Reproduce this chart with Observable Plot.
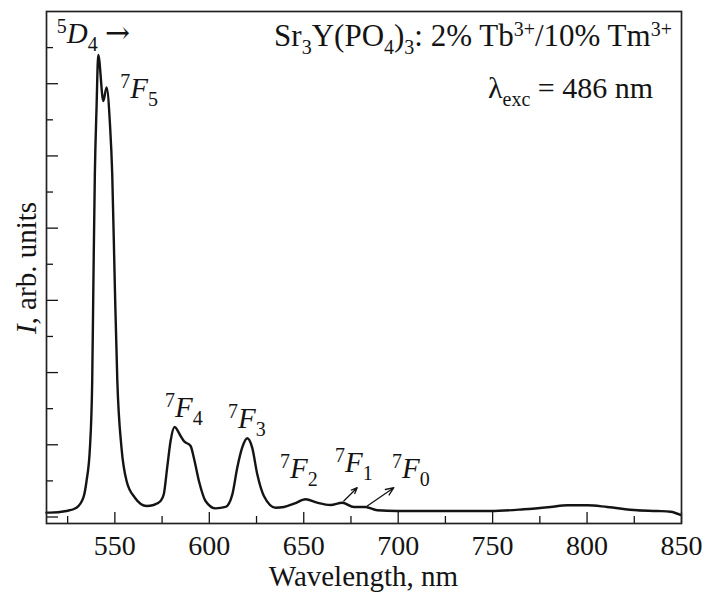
<!DOCTYPE html>
<html><head><meta charset="utf-8">
<script src="https://cdn.jsdelivr.net/npm/d3@7"></script>
<script src="https://cdn.jsdelivr.net/npm/@observablehq/plot@0.6"></script>
<style>body{margin:0;background:#fff} svg{display:block} text{white-space:pre}</style>
</head><body><div id="chart"></div>
<script>
// Emission spectrum (nm, arb. units)
const wavelength = [513.8,515.6,524.4,529.7,533.3,535.0,536.8,538.0,538.6,539.4,540.3,541.2,543.9,545.6,547.4,548.6,550.0,551.3,553.5,556.2,560.6,566.8,570.5,574.2,575.9,577.7,579.5,581.6,584.8,586.5,590.1,591.8,594.5,598.0,603.3,608.6,612.2,614.8,617.4,620.1,622.7,625.4,628.9,635.1,639.5,644.8,651.0,657.1,664.2,670.4,676.5,682.7,688.9,699.5,731.3,748.9,766.5,780.7,789.5,800.1,810.7,826.5,837.1,844.2,849.5];
const intensity  = [0.06,0.06,0.083,0.129,0.267,0.499,0.96,1.884,3.176,4.75,5.67,6.40,5.76,5.95,5.44,4.75,3.176,1.884,0.96,0.499,0.267,0.152,0.166,0.222,0.314,0.683,1.053,1.247,1.122,1.053,0.983,0.821,0.499,0.222,0.12,0.139,0.314,0.683,0.96,1.09,0.96,0.591,0.291,0.129,0.139,0.184,0.245,0.198,0.166,0.198,0.139,0.139,0.093,0.083,0.083,0.083,0.107,0.139,0.162,0.162,0.139,0.093,0.083,0.073,0.028];

const xMajorTicks = [550,600,650,700,750,800,850];
const xMinorTicks = [525,575,625,675,725,775,825];
const yMajorTicks = [0,1,2,3,4,5,6];
const yMinorTicks = [0.5,1.5,2.5,3.5,4.5,5.5,6.5];

// Transition labels 7F_J
const labelSub = ["5","4","3","2","1","0"];
const labelWavelength = [553.1,576.8,610.2,637.7,666.8,697.0];
const labelIntensity = [5.80,1.371,1.219,0.54,0.61,0.54];

// Arrows for 7F1 and 7F0
const arrowFromX = [671.2,683.6];
const arrowFromY = [0.222,0.152];
const arrowToX = [678.3,697.7];
const arrowToY = [0.406,0.406];

const spectrum = wavelength.map((w,i)=>({w, v: intensity[i]}));
const arrows = arrowFromX.map((d,i)=>({x1:d,y1:arrowFromY[i],x2:arrowToX[i],y2:arrowToY[i]}));

const W = 705, H = 598, mT = 11, mB = 75, mL = 46, mR = 24;
const frameH = H - mT - mB, frameW = W - mL - mR;
const ink = "#141414";
const FS = 29, SS = 20;

const plot = Plot.plot({
  width: W, height: H,
  marginTop: mT, marginBottom: mB, marginLeft: mL, marginRight: mR,
  x: {domain: [513.8, 850]},
  y: {domain: [-0.09, 7.0], axis: null},
  style: {fontFamily: "'Liberation Serif', serif", fontSize: FS + "px", color: ink, background: "white"},
  marks: [
    Plot.axisX({ticks: xMajorTicks, tickSize: 0, tickPadding: 12, tickFormat: d => String(d), label: null, fontSize: 28}),
    Plot.tickX(xMajorTicks, {x: d => d, insetTop: frameH - 11, stroke: ink, strokeWidth: 1.3}),
    Plot.tickX(xMinorTicks, {x: d => d, insetTop: frameH - 7, stroke: ink, strokeWidth: 1.3}),
    Plot.tickY(yMajorTicks, {y: d => d, insetRight: frameW - 12, stroke: ink, strokeWidth: 1.3}),
    Plot.tickY(yMinorTicks, {y: d => d, insetRight: frameW - 7, stroke: ink, strokeWidth: 1.3}),
    Plot.line(spectrum, {x: "w", y: "v", curve: "monotone-x", stroke: ink, strokeWidth: 2.4}),
    Plot.arrow(arrows, {x1: "x1", y1: "y1", x2: "x2", y2: "y2", stroke: ink, strokeWidth: 1.3, headLength: 10, headAngle: 45}),
    Plot.frame({stroke: "#222", strokeWidth: 1.7})
  ]
});

const sx = plot.scale("x"), sy = plot.scale("y");
const g = d3.select(plot).append("g").attr("fill", ink).attr("font-family", "'Liberation Serif', serif");

function rich(x, y, parts, anchor, size = FS, small = SS, rotate = null) {
  const t = g.append("text").attr("x", x).attr("y", y).attr("text-anchor", anchor).attr("font-size", size);
  if (rotate !== null) t.attr("transform", `rotate(${rotate},${x},${y})`);
  let shift = 0;
  for (const p of parts) {
    const target = p.s === "sup" ? -10 : p.s === "sub" ? 8 : 0;
    const ts = t.append("tspan").text(p.t);
    if (target - shift !== 0) ts.attr("dy", target - shift);
    shift = target;
    if (p.s) ts.attr("font-size", small);
    if (p.i) ts.attr("font-style", "italic");
    if (p.f) ts.attr("font-family", p.f);
    if (p.z) ts.attr("font-size", p.z);
  }
  return t;
}

// transition labels
labelSub.forEach((s, i) => {
  rich(sx.apply(labelWavelength[i]), sy.apply(labelIntensity[i]),
    [{t: "7", s: "sup"}, {t: "F", i: true}, {t: s, s: "sub"}], "start");
});
// 5D4 ->
rich(sx.apply(519.5), sy.apply(6.56), [{t: "5", s: "sup"}, {t: "D", i: true}, {t: "4", s: "sub"}, {t: " "}, {t: "→", f: "'DejaVu Serif'", z: 30}], "start");
// title
rich(sx.apply(845.2), sy.apply(6.51), [
  {t: "Sr"}, {t: "3", s: "sub"}, {t: "Y(PO"}, {t: "4", s: "sub"}, {t: ")"}, {t: "3", s: "sub"},
  {t: ": 2% Tb"}, {t: "3+", s: "sup"}, {t: "/10% Tm"}, {t: "3+", s: "sup"}], "end", 31);
rich(sx.apply(835.2), sy.apply(5.79), [{t: "λ"}, {t: "exc", s: "sub"}, {t: " = 486 nm"}], "end", 30);
// axis labels
rich(mL + frameW / 2, 586, [{t: "Wavelength, nm"}], "middle");
rich(36, 268, [{t: "I", i: true}, {t: ", arb. units"}], "middle", FS, SS, -90);

document.getElementById("chart").appendChild(plot);
</script>
</body></html>
